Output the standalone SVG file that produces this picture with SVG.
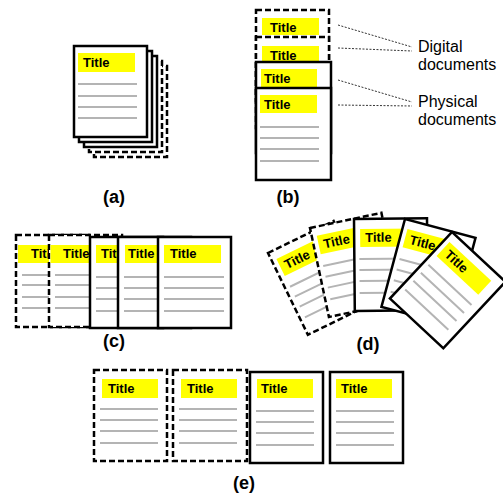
<svg xmlns="http://www.w3.org/2000/svg" width="503" height="497" viewBox="0 0 503 497">
<style>
.pg{fill:#fff;stroke:#000;stroke-width:2.5}
.dash{stroke-dasharray:6 3}
.tb{fill:#ffff00}
.tt{font-family:"Liberation Sans",Arial,sans-serif;font-weight:bold;font-size:13px;fill:#000}
.ln{stroke:#b4b4b4;stroke-width:2;fill:none}
.lbl{font-family:"Liberation Sans",Arial,sans-serif;font-weight:bold;font-size:18px;text-anchor:middle;fill:#000}
.side{font-family:"Liberation Sans",Arial,sans-serif;font-size:16px;fill:#000}
.dot{stroke:#333;stroke-width:1;stroke-dasharray:2 1.5;fill:none}
</style>
<rect width="503" height="497" fill="#fff"/>

<!-- (a) stack -->
<g id="a-stack">
  <rect class="pg dash" x="94" y="66" width="73" height="91"/>
  <rect class="pg dash" x="89" y="61" width="73" height="91"/>
  <rect class="pg" x="84" y="56" width="73" height="91"/>
  <rect class="pg" x="79" y="51" width="73" height="91"/>
  <g transform="translate(74,46)">
    <rect class="pg" width="73" height="91"/>
    <rect class="tb" x="4" y="7" width="57" height="19"/>
    <text class="tt" x="9" y="21">Title</text>
    <path class="ln" d="M4 38h59M4 50h59M4 61h59M4 72h59"/>
  </g>
</g>
<text class="lbl" x="114" y="203">(a)</text>

<!-- (b) -->
<g id="b-digital-1" transform="translate(256,10)">
  <rect class="pg dash" width="73" height="91"/>
  <rect class="tb" x="6" y="8" width="57" height="17"/>
  <text class="tt" x="14" y="22">Title</text>
</g>
<g id="b-digital-2" transform="translate(256,37)">
  <rect class="pg dash" width="73" height="91"/>
  <rect class="tb" x="6" y="9" width="57" height="17"/>
  <text class="tt" x="14" y="23">Title</text>
</g>
<g id="b-physical-1" transform="translate(256,62)">
  <rect class="pg" width="75" height="91"/>
  <rect class="tb" x="5" y="7" width="56" height="18"/>
  <text class="tt" x="8" y="21">Title</text>
</g>
<g id="b-physical-2" transform="translate(256,88)">
  <rect class="pg" width="75" height="92"/>
  <rect class="tb" x="4" y="7" width="57" height="18"/>
  <text class="tt" x="8" y="21">Title</text>
  <path class="ln" d="M4 39h59M4 50h59M4 61h59M4 73h59"/>
</g>
<g id="connectors">
  <path class="dot" d="M338 25L412 47M338 48L412 51M338 80L412 102M338 105L412 106"/>
</g>
<g id="label-digital">
  <text class="side" x="418" y="52">Digital</text>
  <text class="side" x="418" y="70">documents</text>
</g>
<g id="label-physical">
  <text class="side" x="418" y="107">Physical</text>
  <text class="side" x="418" y="125">documents</text>
</g>
<text class="lbl" x="288" y="203">(b)</text>

<!-- (c) -->
<g id="c-1" transform="translate(16,235)">
  <rect class="pg dash" width="73" height="92"/>
  <rect class="tb" x="2" y="10" width="57" height="18"/>
  <text class="tt" x="15" y="23">Title</text>
  <path class="ln" d="M6 40h60M6 50h60M6 62h60M6 73h60"/>
</g>
<g id="c-2" transform="translate(49,235)">
  <rect class="pg dash" width="73" height="92"/>
  <rect class="tb" x="1.5" y="10" width="57" height="18"/>
  <text class="tt" x="14" y="23">Title</text>
  <path class="ln" d="M6 40h60M6 50h60M6 62h60M6 73h60"/>
</g>
<g id="c-3" transform="translate(90,237)">
  <rect class="pg" width="73" height="91"/>
  <rect class="tb" x="6" y="8" width="57" height="18"/>
  <text class="tt" x="11" y="21">Title</text>
  <path class="ln" d="M6 40h60M6 51h60M6 62h60M6 74h60"/>
</g>
<g id="c-4" transform="translate(118,237)">
  <rect class="pg" width="73" height="91"/>
  <rect class="tb" x="7" y="8" width="57" height="18"/>
  <text class="tt" x="10" y="21">Title</text>
  <path class="ln" d="M6 40h60M6 51h60M6 62h60M6 74h60"/>
</g>
<g id="c-5" transform="translate(158,237)">
  <rect class="pg" width="73" height="91"/>
  <rect class="tb" x="6" y="8" width="57" height="18"/>
  <text class="tt" x="12" y="21">Title</text>
  <path class="ln" d="M6 40h60M6 51h60M6 62h60M6 74h60"/>
</g>
<text class="lbl" x="114" y="347">(c)</text>

<!-- (d) -->
<g id="d-1" transform="translate(268,253) rotate(-26)">
  <rect class="pg dash" width="73" height="91"/>
  <rect class="tb" x="5" y="9" width="57" height="19"/>
  <text class="tt" x="10" y="23">Title</text>
  <path class="ln" d="M5 40h59M5 51h59M5 62h59M5 74h59"/>
</g>
<g id="d-2" transform="translate(310,228) rotate(-12)">
  <rect class="pg dash" width="73" height="91"/>
  <rect class="tb" x="5" y="9" width="57" height="19"/>
  <text class="tt" x="10" y="23">Title</text>
  <path class="ln" d="M5 40h59M5 51h59M5 62h59M5 74h59"/>
</g>
<g id="d-3" transform="translate(354,219) rotate(-0.5)">
  <rect class="pg" width="73" height="92"/>
  <rect class="tb" x="6" y="10" width="57" height="18"/>
  <text class="tt" x="11" y="23">Title</text>
  <path class="ln" d="M5 40h59M5 51h59M5 62h59M5 74h59"/>
</g>
<g id="d-4" transform="translate(405,219) rotate(15)">
  <rect class="pg" width="73" height="91"/>
  <rect class="tb" x="5" y="9" width="57" height="19"/>
  <text class="tt" x="10" y="23">Title</text>
  <path class="ln" d="M5 40h59M5 51h59M5 62h59M5 74h59"/>
</g>
<g id="d-5" transform="translate(452,232) rotate(43)">
  <rect class="pg" width="73" height="91"/>
  <rect class="tb" x="5" y="9" width="57" height="19"/>
  <text class="tt" x="10" y="23">Title</text>
  <path class="ln" d="M5 40h59M5 51h59M5 62h59M5 74h59"/>
</g>
<text class="lbl" x="368" y="350">(d)</text>

<!-- (e) -->
<g id="e-1" transform="translate(94,370)">
  <rect class="pg dash" width="73" height="91"/>
  <rect class="tb" x="8" y="9" width="56" height="19"/>
  <text class="tt" x="14" y="23">Title</text>
  <path class="ln" d="M6 39h58M6 50h58M6 61h58M6 73h58"/>
</g>
<g id="e-2" transform="translate(173,370)">
  <rect class="pg dash" width="74" height="91"/>
  <rect class="tb" x="8" y="9" width="56" height="19"/>
  <text class="tt" x="14" y="23">Title</text>
  <path class="ln" d="M6 39h58M6 50h58M6 61h58M6 73h58"/>
</g>
<g id="e-3" transform="translate(250,372)">
  <rect class="pg" width="73" height="91"/>
  <rect class="tb" x="7" y="7" width="56" height="19"/>
  <text class="tt" x="11" y="21">Title</text>
  <path class="ln" d="M6 39h58M6 50h58M6 61h58M6 73h58"/>
</g>
<g id="e-4" transform="translate(330,372)">
  <rect class="pg" width="73" height="91"/>
  <rect class="tb" x="6" y="7" width="56" height="19"/>
  <text class="tt" x="11" y="21">Title</text>
  <path class="ln" d="M6 39h58M6 50h58M6 61h58M6 73h58"/>
</g>
<text class="lbl" x="244" y="489">(e)</text>
</svg>
